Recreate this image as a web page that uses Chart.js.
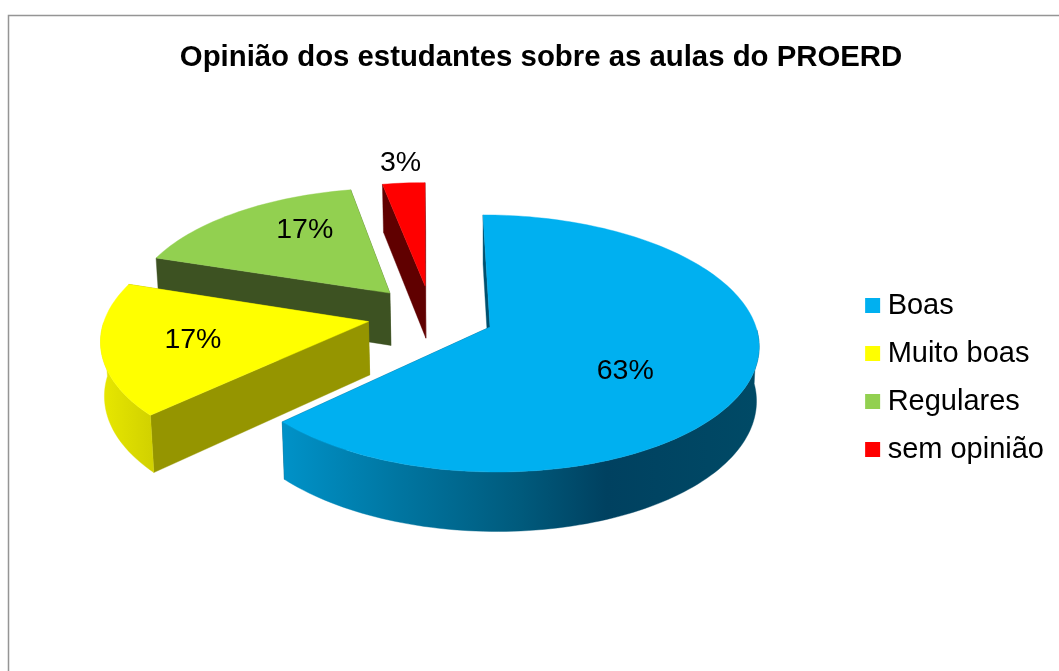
<!DOCTYPE html>
<html><head><meta charset="utf-8">
<style>html,body{margin:0;padding:0;background:#fff}#w{position:absolute;left:0;top:0;width:1059px;height:671px}</style>
<script src="https://cdn.jsdelivr.net/npm/chart.js@4/dist/chart.umd.min.js"></script>
</head><body><div id="w"><canvas id="c" width="1059" height="671"></canvas></div>
<script>
const titleText = 'Opinião dos estudantes sobre as aulas do PROERD';
const categories = ['Boas', 'Muito boas', 'Regulares', 'sem opinião'];
const shares = [63, 17, 17, 3];
const topColors = ['#00B0F0', '#FFFF00', '#92D050', '#FF0000'];
const cutColors = ['#00506e', '#959500', '#3d5222', '#600000'];
const rimStops = [
  [[0, '#0092c8'], [0.25, '#0075a0'], [0.5, '#005a7c'], [0.68, '#004160'], [1, '#004a66']],
  [[0, '#e8e800'], [1, '#d2d200']],
  [[0, '#3d5222'], [1, '#3d5222']],
  [[0, '#600000'], [1, '#600000']]
];
const labelRadius = [0.59, 0.66, 0.69, 1.23];
const labelTurnDeg = [11, 0, 7, -2.0];
const FONT = '"Liberation Sans", Arial, sans-serif';

/* Tilted-disc projection: unit disc coordinates to the page (a homography) */
const view = {cx: 490, cy: 327, a: 266, b: 84.6, k: -0.128, shear: 7, explode: 0.242};
function project(u, v, shear) {
  const w = 1 + view.k * v;
  return {x: view.cx + view.a * u / w + shear * v, y: (view.cy + view.b * v) / w};
}
function drop(p) {
  const h = 48 + 0.04 * (p.y - 185);
  return {x: p.x + (view.cx - p.x) * 0.01, y: p.y + h};
}
function poly(ctx, pts, fill) {
  ctx.beginPath();
  pts.forEach((p, i) => i ? ctx.lineTo(p.x, p.y) : ctx.moveTo(p.x, p.y));
  ctx.closePath();
  ctx.fillStyle = fill;
  ctx.fill();
  ctx.strokeStyle = fill;
  ctx.lineWidth = 0.4;
  ctx.stroke();
}
const pie3d = {
  id: 'pie3d',
  beforeDraw(chart) {
    const ctx = chart.ctx;
    ctx.save();
    ctx.strokeStyle = '#959595';
    ctx.lineWidth = 1.5;
    ctx.beginPath();
    ctx.moveTo(8.5, chart.height);
    ctx.lineTo(8.5, 15.5);
    ctx.lineTo(chart.width, 15.5);
    ctx.stroke();
    ctx.restore();
  },
  beforeDatasetsDraw(chart) {
    const ctx = chart.ctx;
    const arcs = chart.getDatasetMeta(0).data;
    // disc origin: the first slice's apex is the reference, all slices explode equally
    const m0 = (arcs[0].startAngle + arcs[0].endAngle) / 2;
    const ou = -view.explode * Math.cos(m0), ov = -view.explode * Math.sin(m0);
    const geo = arcs.map(el => {
      const mid = (el.startAngle + el.endAngle) / 2;
      const au = ou + view.explode * Math.cos(mid), av = ov + view.explode * Math.sin(mid);
      const steps = Math.max(8, Math.ceil((el.endAngle - el.startAngle) * 40));
      const rim = [];
      for (let i = 0; i <= steps; i++) {
        const t = el.startAngle + (el.endAngle - el.startAngle) * i / steps;
        rim.push({t, p: project(au + Math.cos(t), av + Math.sin(t), view.shear)});
      }
      return {au, av, mid, rim, apex: project(au, av, view.shear)};
    });
    // back to front: last slice first
    for (let i = arcs.length - 1; i >= 0; i--) {
      const g = geo[i], first = g.rim[0].p, last = g.rim[g.rim.length - 1].p;
      poly(ctx, [last, g.apex, drop(g.apex), drop(last)], cutColors[i]);
      poly(ctx, [first, g.apex, drop(g.apex), drop(first)], cutColors[i]);
      const front = g.rim.filter(r => Math.sin(r.t) > 0).map(r => r.p);
      if (front.length > 1) {
        const xs = front.map(p => p.x);
        const x0 = Math.min(...xs), x1 = Math.max(...xs);
        const grad = ctx.createLinearGradient(x0, 0, x1, 0);
        rimStops[i].forEach(s => grad.addColorStop(s[0], s[1]));
        poly(ctx, front.concat(front.slice().reverse().map(drop)), grad);
      }
      poly(ctx, [g.apex].concat(g.rim.map(r => r.p)), arcs[i].options.backgroundColor);
    }
    ctx.save();
    ctx.fillStyle = '#000';
    ctx.font = '28.5px ' + FONT;
    ctx.textAlign = 'center';
    ctx.textBaseline = 'middle';
    arcs.forEach((el, i) => {
      const g = geo[i];
      const t = g.mid + labelTurnDeg[i] * Math.PI / 180;
      const p = project(g.au + labelRadius[i] * Math.cos(t), g.av + labelRadius[i] * Math.sin(t), 0);
      ctx.fillText(shares[i] + '%', p.x, p.y);
    });
    ctx.restore();
    return false;
  }
};
new Chart(document.getElementById('c'), {
  type: 'pie',
  data: {labels: categories, datasets: [{data: shares, backgroundColor: topColors, borderWidth: 0}]},
  plugins: [pie3d],
  options: {
    responsive: false,
    animation: false,
    layout: {padding: {left: 28, top: 40, right: 5, bottom: -44}},
    plugins: {
      tooltip: {enabled: false},
      title: {display: true, text: titleText, color: '#000', font: {family: FONT, size: 29.35, weight: 'bold'}, padding: {top: 0, bottom: 10}},
      legend: {
        position: 'right',
        labels: {
          usePointStyle: true, pointStyle: 'rect', boxWidth: 1, boxHeight: 15,
          color: '#000', padding: 19, font: {family: FONT, size: 29}
        }
      }
    }
  }
});
</script></body></html>
